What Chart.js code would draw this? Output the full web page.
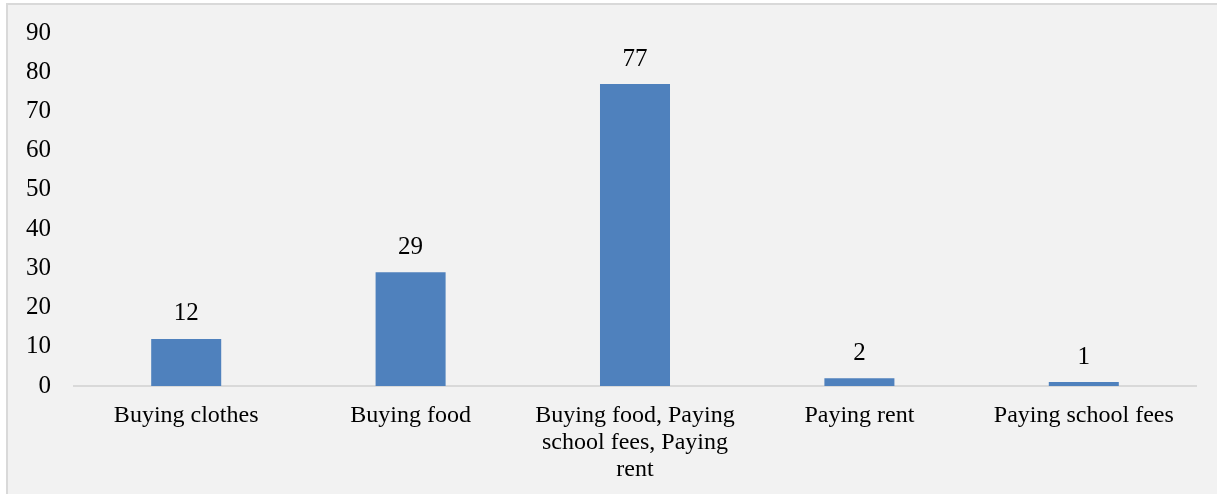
<!DOCTYPE html>
<html>
<head>
<meta charset="utf-8">
<script src="https://cdn.jsdelivr.net/npm/chart.js@4/dist/chart.umd.min.js"></script>
<style>
  html, body { margin: 0; padding: 0; background: #ffffff; }
  canvas { display: block; }
</style>
</head>
<body>
<canvas id="c" width="1217" height="494"></canvas>
<script>
const categories = [
  'Buying clothes',
  'Buying food',
  ['Buying food, Paying', 'school fees, Paying', 'rent'],
  'Paying rent',
  'Paying school fees'
];
const counts = [12, 29, 77, 2, 1];
const yTicks = [0, 10, 20, 30, 40, 50, 60, 70, 80, 90];

const FONT = '"Liberation Serif", "Times New Roman", serif';

// Panel background with a thin frame on the top and left edges
const panelBackground = {
  id: 'panelBackground',
  beforeDraw(chart) {
    const ctx = chart.ctx;
    const w = chart.width, h = chart.height;
    ctx.save();
    ctx.fillStyle = '#ffffff';
    ctx.fillRect(0, 0, w, h);
    ctx.fillStyle = '#f2f2f2';
    ctx.fillRect(6, 3, w - 6, h - 3);
    ctx.fillStyle = '#d9d9d9';
    ctx.fillRect(6, 3, w - 6, 2);
    ctx.fillRect(6, 3, 2, h - 3);
    ctx.restore();
  }
};

// Value labels above each bar
const valueLabels = {
  id: 'valueLabels',
  afterDatasetsDraw(chart) {
    const ctx = chart.ctx;
    const meta = chart.getDatasetMeta(0);
    ctx.save();
    ctx.font = '25px ' + FONT;
    ctx.fillStyle = '#000000';
    ctx.textAlign = 'center';
    ctx.textBaseline = 'middle';
    meta.data.forEach((bar, i) => {
      ctx.fillText(String(counts[i]), bar.x, bar.y - 25);
    });
    ctx.restore();
  }
};

new Chart(document.getElementById('c'), {
  type: 'bar',
  data: {
    labels: categories,
    datasets: [{
      data: counts,
      backgroundColor: '#4f81bd',
      borderWidth: 0,
      categoryPercentage: 1.0,
      barPercentage: 0.312
    }]
  },
  options: {
    responsive: false,
    animation: false,
    devicePixelRatio: 1,
    layout: { padding: { top: 33, right: 21, bottom: 0, left: 0 } },
    plugins: {
      legend: { display: false },
      tooltip: { enabled: false }
    },
    scales: {
      x: {
        grid: { display: false, drawTicks: false },
        border: { display: true, color: '#d9d9d9', width: 2 },
        ticks: {
          color: '#000000',
          font: { family: FONT, size: 24, lineHeight: 1.125 },
          padding: 16,
          maxRotation: 0,
          autoSkip: false
        },
        afterFit(scale) { scale.height = 108; }
      },
      y: {
        min: 0,
        max: 90,
        grid: { display: false, drawTicks: false },
        border: { display: false },
        afterBuildTicks(scale) { scale.ticks = yTicks.map(v => ({ value: v })); },
        ticks: {
          color: '#000000',
          font: { family: FONT, size: 25, lineHeight: 0.8 },
          padding: 23
        },
        afterFit(scale) { scale.width = 74; }
      }
    }
  },
  plugins: [panelBackground, valueLabels]
});
</script>
</body>
</html>
